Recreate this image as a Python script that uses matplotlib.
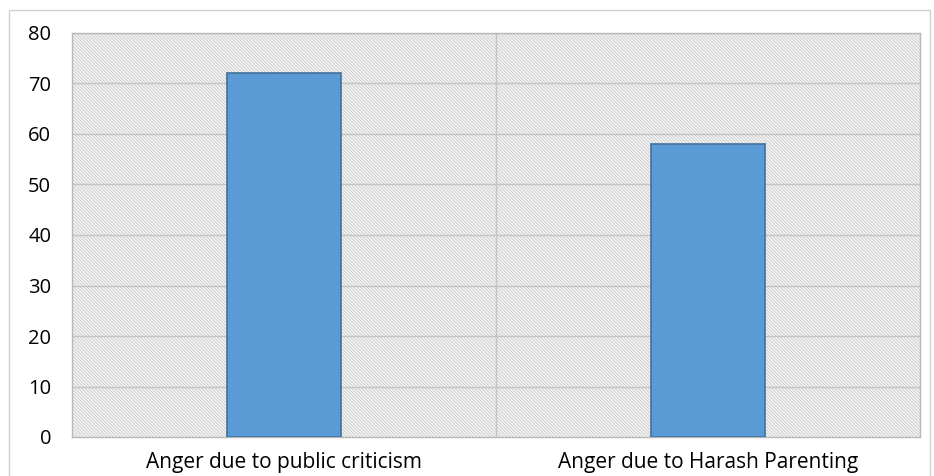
import matplotlib
matplotlib.use("Agg")
import matplotlib.pyplot as plt
from matplotlib.patches import Rectangle

categories = ["Anger due to public criticism", "Anger due to Harash Parenting"]
values = [72, 58]
yticks = [0, 10, 20, 30, 40, 50, 60, 70, 80]

plt.rcParams['font.family'] = ['Open Sans', 'DejaVu Sans']
plt.rcParams['hatch.linewidth'] = 0.5
plt.rcParams['hatch.color'] = '#c4c4c4'

fig = plt.figure(figsize=(9.34, 4.76), dpi=100)
fig.patch.set_facecolor('white')
# outer chart frame
fig.patches.append(Rectangle((9/934, -0.1), (930-9)/934, 1.1 - 10/476,
                             transform=fig.transFigure, fill=False,
                             edgecolor='#d0d0d0', linewidth=1.0))

ax = fig.add_axes([72/934, 1 - 437/476, (920-72)/934, (437-33)/476])
ax.set_facecolor('#f3f3f3')
bg = Rectangle((0, 0), 1, 1, transform=ax.transAxes, facecolor='#f3f3f3',
               hatch='\\' * 10, edgecolor='#c4c4c4', linewidth=0, zorder=0)
ax.add_patch(bg)

x = list(range(len(categories)))
ax.bar(x, values, width=0.27, color='#5B9BD5', edgecolor='#41719C',
       linewidth=1.2, zorder=3)

ax.set_xlim(-0.5, len(categories) - 0.5)
ax.set_ylim(0, 80)
ax.set_yticks(yticks)
ax.set_yticklabels([str(t) for t in yticks], fontsize=14.5)
ax.set_xticks(x)
ax.set_xticklabels(categories, fontsize=15)
ax.tick_params(axis='y', length=0, pad=15)
ax.tick_params(axis='x', length=0, pad=11)

for t in yticks[1:]:
    ax.axhline(t, color='#c4c4c4', linewidth=1.0, zorder=1)
for b in range(1, len(categories)):
    ax.axvline(b - 0.5, color='#c4c4c4', linewidth=1.0, zorder=1)

for s in ax.spines.values():
    s.set_color('#b8b8b8')
    s.set_linewidth(1.0)

fig.savefig('out.png', dpi=100)
